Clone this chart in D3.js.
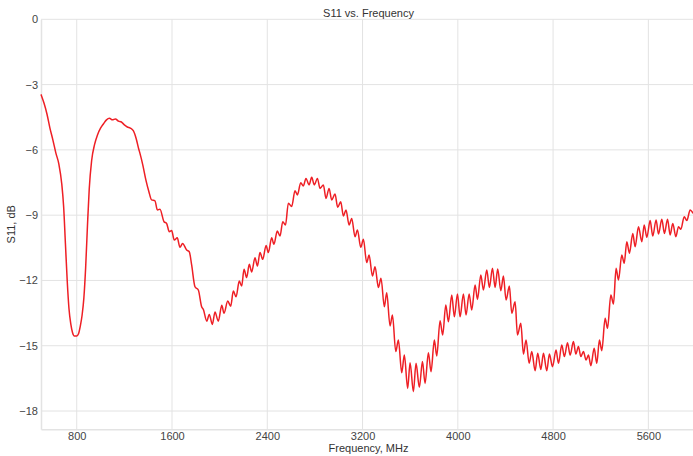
<!DOCTYPE html>
<html>
<head>
<meta charset="utf-8">
<script src="https://cdn.jsdelivr.net/npm/d3@7"></script>
<style>
  body { margin: 0; background: #fff; overflow: hidden; }
  text { font-family: "Liberation Sans", Arial, sans-serif; }
</style>
</head>
<body>
<div id="chart"></div>
<script>
// frequency points (MHz) and S11 (dB)
var freqMHz = [
  500, 525, 550, 575, 600, 625, 650, 675, 690, 705, 720, 735, 750, 765, 780, 800,
  815, 830, 845, 860, 875, 890, 905, 925, 950, 975, 1000, 1025, 1050, 1075, 1100,
  1125, 1150, 1175, 1200, 1225, 1250, 1275, 1300, 1320, 1331, 1355, 1381, 1405,
  1429, 1457, 1477, 1499, 1533, 1555, 1577, 1597, 1619, 1644, 1667, 1689, 1723,
  1745, 1765, 1793, 1821, 1849, 1863, 1892, 1913, 1939, 1961, 1989, 2018, 2037,
  2068, 2093, 2115, 2138, 2165, 2185, 2205, 2227, 2249, 2269, 2297, 2317, 2339,
  2362, 2390, 2409, 2437, 2456, 2484, 2507, 2530, 2553, 2577, 2605,
  2633, 2653, 2681, 2703, 2725, 2751, 2773, 2795, 2821, 2843, 2871, 2893, 2919,
  2941, 2969, 2991, 3017, 3039, 3061, 3087, 3109, 3137, 3157, 3185, 3207, 3235,
  3255, 3283, 3305, 3333, 3355, 3383, 3403, 3431, 3451, 3479, 3501, 3529, 3551,
  3579, 3599, 3627, 3649, 3677, 3703, 3725, 3753, 3775, 3803, 3823, 3851, 3873,
  3899, 3921, 3949, 3971, 3997, 4019, 4047, 4069, 4095,
  4117, 4145, 4165, 4193, 4215, 4243, 4265, 4291, 4313, 4335, 4361, 4383, 4405,
  4433, 4453, 4481, 4501, 4529, 4551, 4573, 4599, 4621, 4649, 4671, 4697, 4719,
  4747, 4769, 4795, 4825, 4845, 4873, 4895, 4921, 4943, 4971, 4991, 5013, 5033,
  5055, 5077, 5097, 5117, 5145, 5167, 5189, 5209, 5237, 5257, 5285, 5307, 5329,
  5349, 5377, 5397, 5419, 5441, 5469, 5489, 5517, 5545, 5565, 5587, 5615, 5637,
  5665, 5685, 5713, 5735, 5761, 5783, 5805, 5831, 5853, 5873, 5901, 5923, 5951, 5976
];
var s11dB = [
  -3.45, -3.85, -4.35, -5.0, -5.55, -6.15, -6.65, -7.6, -8.6, -10.3, -12.0, -13.3, -14.0, -14.4, -14.55, -14.55,
  -14.45, -14.1, -13.6, -12.8, -11.4, -9.5, -7.8, -6.5, -5.75, -5.3, -5.0, -4.8, -4.62, -4.55, -4.62,
  -4.58, -4.68, -4.72, -4.85, -4.95, -5.0, -5.12, -5.5, -5.95, -6.16, -6.7, -7.39, -7.9,
  -8.3, -8.34, -8.76, -8.73, -9.3, -9.38, -9.76, -9.71, -10.14, -10.04, -10.48, -10.3, -10.6,
  -10.68, -11.29, -12.29, -12.44, -13.21, -13.33, -13.87, -13.56, -14.02, -13.45, -13.87, -13.14, -13.51,
  -12.95, -13.18, -12.49, -12.75, -12.03, -12.26, -11.49, -11.87, -11.26, -11.61, -10.96, -11.34, -10.72,
  -11.03, -10.39, -10.72, -10.04, -10.34, -9.73, -9.96, -9.3, -9.45, -8.45, -8.6,
  -7.88, -8.07, -7.51, -7.66, -7.31, -7.61, -7.26, -7.61, -7.31, -7.77, -7.61, -8.23, -7.77,
  -8.3, -8.03, -8.64, -8.38, -9.04, -8.76, -9.45, -9.15, -9.99, -9.68, -10.48, -10.11, -11.18,
  -10.83, -11.8, -11.37, -12.32, -11.9, -13.21, -12.56, -14.09, -13.59, -15.27, -14.74, -16.24, -15.43,
  -16.96, -15.78, -17.11, -15.81, -16.91, -15.73, -16.73, -15.32, -16.19, -14.74, -15.47, -13.85, -14.51,
  -13.13, -13.9, -12.67, -13.67, -12.62, -13.67, -12.62, -13.59, -12.62,
  -13.36, -12.21, -12.87, -11.75, -12.44, -11.52, -12.32, -11.44, -12.32, -11.47, -12.47, -11.8, -12.9,
  -12.26, -13.51, -12.98, -14.51, -13.97, -15.38, -14.74, -15.81, -15.27, -16.15, -15.35, -16.09, -15.35,
  -16.15, -15.38, -15.96, -15.2, -15.81, -14.97, -15.5, -14.86, -15.43, -14.81, -15.38, -15.04, -15.5,
  -15.27, -15.66, -15.43, -15.92, -15.12, -15.81, -14.74, -15.23, -13.74, -14.2, -12.67, -13.08, -11.44,
  -11.98, -10.83, -11.21, -10.22, -10.75, -9.84, -10.45, -9.53, -10.22, -9.45, -10.02, -9.25, -9.96,
  -9.22, -9.87, -9.19, -9.84, -9.19, -9.91, -9.38, -9.99, -9.53, -9.65, -9.07, -9.25, -8.76, -8.92
];
var xTicks = [800, 1600, 2400, 3200, 4000, 4800, 5600];
var yTicks = [0, -3, -6, -9, -12, -15, -18];

var W = 693, H = 456;
var pLeft = 41, pRight = 696, pTop = 19.3, pBottom = 429.3;

var svg = d3.select("#chart")
  .append("svg")
  .attr("width", W)
  .attr("height", H);

var x = d3.scaleLinear().domain([500, 6000]).range([pLeft, pRight]);
var y = d3.scaleLinear().domain([-18.84, 0]).range([pBottom, pTop]);

// grid
svg.append("g").selectAll("line")
  .data(xTicks).join("line")
  .attr("x1", d => x(d)).attr("x2", d => x(d))
  .attr("y1", pTop).attr("y2", pBottom)
  .attr("stroke", "#e3e3e3").attr("stroke-width", 1);

svg.append("g").selectAll("line")
  .data(yTicks).join("line")
  .attr("x1", pLeft).attr("x2", pRight)
  .attr("y1", d => y(d)).attr("y2", d => y(d))
  .attr("stroke", "#e3e3e3").attr("stroke-width", 1);

// axes
var xAxis = svg.append("g")
  .attr("transform", "translate(0," + pBottom + ")")
  .call(d3.axisBottom(x).tickValues(xTicks).tickSize(0).tickPadding(3)
    .tickFormat(d => String(d)));
var yAxis = svg.append("g")
  .attr("transform", "translate(" + pLeft + ",0)")
  .call(d3.axisLeft(y).tickValues(yTicks).tickSize(0).tickPadding(3)
    .tickFormat(d => String(d).replace("-", "\u2212")));

[xAxis, yAxis].forEach(function(g) {
  g.select(".domain").attr("stroke", "#e3e3e3").attr("stroke-width", 1.5);
  g.selectAll("text")
    .attr("fill", "#444")
    .style("font-size", "11px")
    .style("font-family", "'Liberation Sans', Arial, sans-serif");
});

// line
var line = d3.line()
  .x(d => x(d[0]))
  .y(d => y(d[1]))
  .curve(d3.curveMonotoneX);

svg.append("path")
  .datum(d3.zip(freqMHz, s11dB))
  .attr("fill", "none")
  .attr("stroke", "#ee1f25")
  .attr("stroke-width", 1.5)
  .attr("d", line);

// labels
var cx = (pLeft + pRight) / 2;
svg.append("text")
  .attr("x", cx).attr("y", 17)
  .attr("text-anchor", "middle")
  .attr("fill", "#333").style("font-size", "11px")
  .text("S11 vs. Frequency");

svg.append("text")
  .attr("x", cx).attr("y", 452)
  .attr("text-anchor", "middle")
  .attr("fill", "#333").style("font-size", "11px")
  .text("Frequency, MHz");

svg.append("text")
  .attr("transform", "translate(15," + ((pTop + pBottom) / 2) + ") rotate(-90)")
  .attr("text-anchor", "middle")
  .attr("fill", "#333").style("font-size", "11px")
  .text("S11, dB");
</script>
</body>
</html>
